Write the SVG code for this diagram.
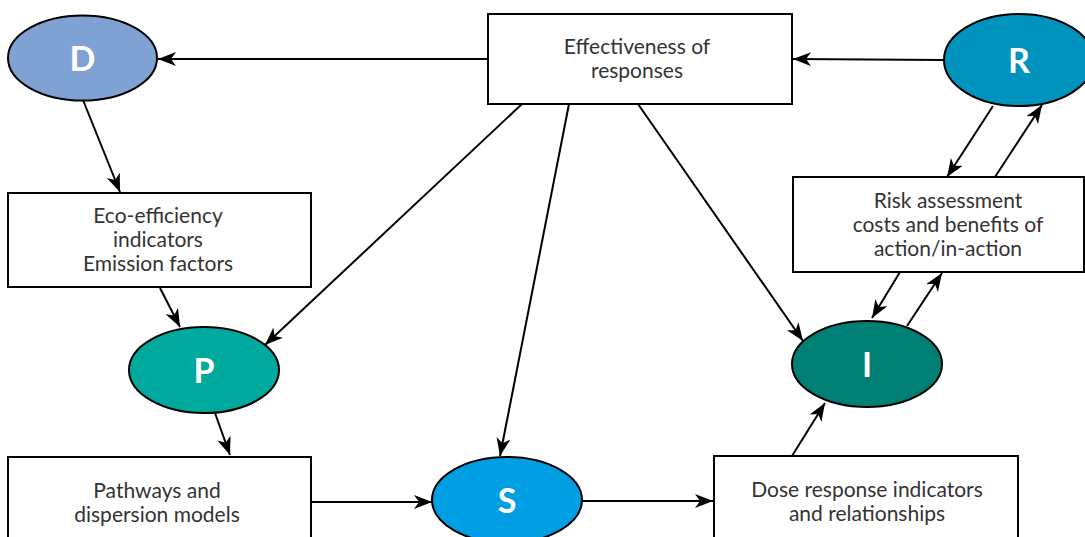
<svg xmlns="http://www.w3.org/2000/svg" width="1085" height="537" viewBox="0 0 1085 537">
<defs>
<marker id="ah" markerUnits="userSpaceOnUse" markerWidth="20" markerHeight="16" refX="18" refY="7" orient="auto">
<path d="M0,0 L18,7 L0,14 L5,7 z" fill="#000"/>
</marker>
<style>
.box{fill:#fff;stroke:#000;stroke-width:2}
.ell{stroke:#000;stroke-width:2}
.t{font-family:Lato,"Noto Sans",sans-serif;font-size:21px;fill:#333;text-anchor:middle}
.L{font-family:Lato,"Noto Sans",sans-serif;font-size:34px;font-weight:bold;fill:#fff;text-anchor:middle}
.c{stroke:#000;stroke-width:2;fill:none;marker-end:url(#ah)}
</style>
</defs>
<rect width="1085" height="537" fill="#fff"/>
<g id="connectors">
<line class="c" x1="944" y1="60" x2="793" y2="59"/>
<line class="c" x1="488" y1="59" x2="158" y2="59"/>
<line class="c" x1="83" y1="100" x2="120" y2="192"/>
<line class="c" x1="160" y1="288" x2="180" y2="327"/>
<line class="c" x1="522" y1="104" x2="265" y2="345"/>
<line class="c" x1="569" y1="104" x2="500" y2="456"/>
<line class="c" x1="638" y1="104" x2="803" y2="341"/>
<line class="c" x1="215" y1="413" x2="230" y2="455"/>
<line class="c" x1="312" y1="502" x2="432" y2="502"/>
<line class="c" x1="582" y1="501" x2="713" y2="501"/>
<line class="c" x1="792" y1="456" x2="825" y2="403"/>
<line class="c" x1="993" y1="106" x2="947" y2="177"/>
<line class="c" x1="995" y1="177" x2="1042" y2="105"/>
<line class="c" x1="900" y1="272" x2="872" y2="318"/>
<line class="c" x1="907" y1="326" x2="942" y2="273"/>
</g>
<g id="effectiveness">
<rect class="box" x="488" y="14" width="304" height="90"/>
<text class="t" x="637" y="54">Effectiveness of</text>
<text class="t" x="637" y="78">responses</text>
</g>
<g id="D">
<ellipse class="ell" cx="82.5" cy="58" rx="74.5" ry="42.5" fill="#7fa1d4"/>
<text class="L" x="82.5" y="71">D</text>
</g>
<g id="R">
<ellipse class="ell" cx="1019" cy="60" rx="75" ry="46" fill="#0093bd"/>
<text class="L" x="1019" y="73">R</text>
</g>
<g id="eco">
<rect class="box" x="8" y="193" width="303" height="94"/>
<text class="t" x="158" y="223">Eco-efficiency</text>
<text class="t" x="158" y="247">indicators</text>
<text class="t" x="158" y="271">Emission factors</text>
</g>
<g id="risk">
<rect class="box" x="793" y="177" width="291" height="95"/>
<text class="t" x="948" y="208">Risk assessment</text>
<text class="t" x="948" y="232">costs and benefits of</text>
<text class="t" x="948" y="256">action/in-action</text>
</g>
<g id="P">
<ellipse class="ell" cx="204" cy="370" rx="75" ry="43" fill="#00a99d"/>
<text class="L" x="204" y="383">P</text>
</g>
<g id="I">
<ellipse class="ell" cx="867" cy="364" rx="75" ry="43" fill="#008075"/>
<text class="L" x="867" y="377">I</text>
</g>
<g id="pathways">
<rect class="box" x="8" y="457" width="303" height="100"/>
<text class="t" x="157" y="498">Pathways and</text>
<text class="t" x="157" y="522">dispersion models</text>
</g>
<g id="S">
<ellipse class="ell" cx="507" cy="500" rx="75" ry="43" fill="#009fe3"/>
<text class="L" x="507" y="513">S</text>
</g>
<g id="dose">
<rect class="box" x="714" y="456" width="304" height="100"/>
<text class="t" x="867" y="497">Dose response indicators</text>
<text class="t" x="867" y="521">and relationships</text>
</g>
</svg>
